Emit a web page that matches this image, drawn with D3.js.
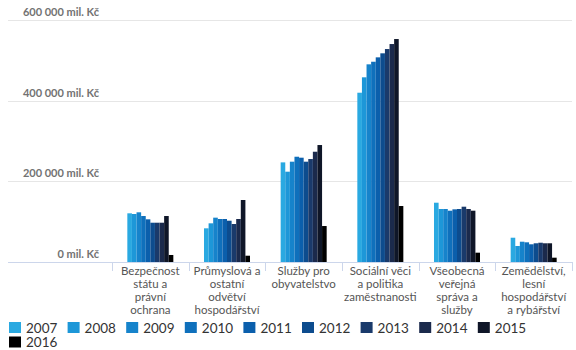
<!DOCTYPE html>
<html>
<head>
<meta charset="utf-8">
<script src="https://cdn.jsdelivr.net/npm/d3@7"></script>
<style>
  html, body { margin: 0; padding: 0; background: #fff; }
  svg { display: block; font-family: Lato, "Open Sans", sans-serif; }
</style>
</head>
<body>
<svg id="chart" width="576" height="350"></svg>
<script>
// Výdaje státního rozpočtu podle oblastí (mil. Kč), 2007–2016
const categories = [
  ["Bezpečnost", "státu a", "právní", "ochrana"],
  ["Průmyslová a", "ostatní", "odvětví", "hospodářství"],
  ["Služby pro", "obyvatelstvo"],
  ["Sociální věci", "a politika", "zaměstnanosti"],
  ["Všeobecná", "veřejná", "správa a", "služby"],
  ["Zemědělství,", "lesní", "hospodářství", "a rybářství"]
];
const years = ["2007", "2008", "2009", "2010", "2011", "2012", "2013", "2014", "2015", "2016"];

// one array per category, values for 2007..2016
const bezpecnost = [120700, 119000, 123200, 114000, 105800, 97400, 97400, 97400, 114000, 17400];
const prumysl    = [83500, 95900, 109900, 106600, 106600, 102400, 94200, 106600, 153700, 15600];
const sluzby     = [247000, 223900, 248700, 261000, 258600, 248700, 255300, 273400, 290000, 89200];
const socialni   = [419700, 457900, 490100, 496500, 507400, 517400, 528000, 540400, 552800, 138800];
const verejna    = [147000, 131400, 131400, 127200, 130600, 131400, 137100, 131400, 127200, 23100];
const zemedelstvi= [60200, 39700, 50300, 48800, 43900, 46400, 47800, 46400, 46400, 10700];
const values = [bezpecnost, prumysl, sluzby, socialni, verejna, zemedelstvi];

const yTicks = [0, 200000, 400000, 600000];
const yTickLabels = ["0 mil. Kč", "200 000 mil. Kč", "400 000 mil. Kč", "600 000 mil. Kč"];
const colors = ["#2aa9e1", "#1d97d8", "#1683cb", "#0f70bc", "#0b5fac", "#0d4c8e", "#1a3a6b", "#1b2a4c", "#0f1628", "#000000"];

const svg = d3.select("#chart");
const plotLeft = 112, plotRight = 572, plotTop = 20, plotBottom = 262;

const y = d3.scaleLinear().domain([0, 600000]).range([plotBottom, plotTop]);
const x0 = d3.scaleBand().domain(d3.range(categories.length)).range([plotLeft, plotRight]).padding(0);
const groupW = 46;
const x1 = d3.scaleBand().domain(years)
  .range([(x0.bandwidth() - groupW) / 2, (x0.bandwidth() + groupW) / 2]).padding(0);

// horizontal grid with labels sitting above each line
const grid = svg.append("g");
yTicks.forEach((t, i) => {
  grid.append("line")
    .attr("x1", 8).attr("x2", plotRight)
    .attr("y1", Math.round(y(t)) + 0.5).attr("y2", Math.round(y(t)) + 0.5)
    .attr("stroke", t === 0 ? "#ccd6eb" : "#e6e6e6").attr("stroke-width", 1);
  grid.append("text")
    .attr("x", 99).attr("y", y(t) - 4)
    .attr("text-anchor", "end")
    .attr("font-size", 11).attr("font-weight", 700)
    .attr("fill", "#727272")
    .text(yTickLabels[i]);
});

// category tick marks on the x axis
const tickPos = d3.range(categories.length + 1).map(i => i < categories.length ? x0(i) : plotRight);
svg.append("g").selectAll("line").data(tickPos).join("line")
  .attr("x1", d => Math.round(d) + 0.5).attr("x2", d => Math.round(d) + 0.5)
  .attr("y1", plotBottom).attr("y2", plotBottom + 9)
  .attr("stroke", "#ccd6eb");

// columns
const groups = svg.append("g").selectAll("g").data(values).join("g")
  .attr("transform", (d, i) => `translate(${x0(i)},0)`);
groups.selectAll("rect").data(d => d.map((v, j) => ({ v, year: years[j], j })))
  .join("rect")
  .attr("x", d => x1(d.year))
  .attr("width", x1.bandwidth())
  .attr("y", d => y(d.v))
  .attr("height", d => plotBottom - y(d.v))
  .attr("fill", d => colors[d.j]);

// category labels
const labels = svg.append("g").selectAll("text").data(categories).join("text")
  .attr("text-anchor", "middle")
  .attr("font-size", 11.5)
  .attr("fill", "#555")
  .attr("transform", (d, i) => `translate(${x0(i) + x0.bandwidth() / 2},275)`);
labels.selectAll("tspan").data(d => d).join("tspan")
  .attr("x", 0)
  .attr("dy", (d, i) => i === 0 ? 0 : 13)
  .text(d => d);

// legend: nine items in the first row, the last one wraps
const legend = svg.append("g");
years.forEach((yr, i) => {
  const row = i < 9 ? 0 : 1;
  const col = i < 9 ? i : 0;
  const lx = 9 + col * 58.6;
  const ly = 322 + row * 14.5;
  legend.append("rect").attr("x", lx).attr("y", ly).attr("width", 12).attr("height", 11)
    .attr("fill", colors[i]);
  legend.append("text").attr("x", lx + 17).attr("y", ly + 10.5)
    .attr("font-size", 13.5).attr("fill", "#333")
    .text(yr);
});
</script>
</body>
</html>
